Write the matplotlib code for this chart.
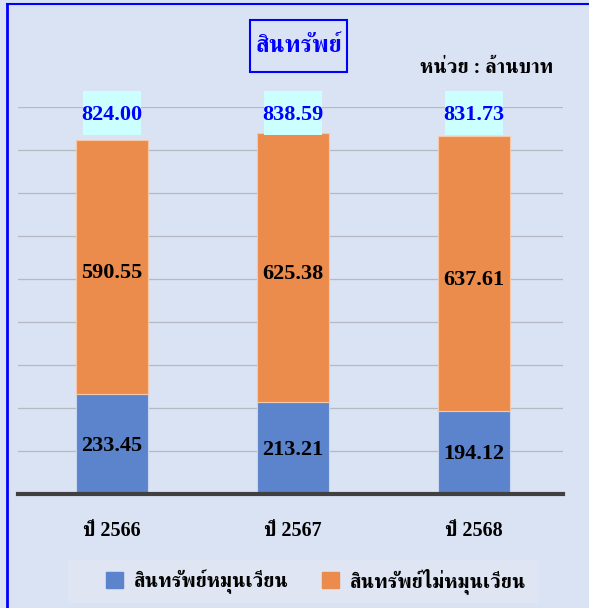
import matplotlib
matplotlib.use('Agg')
import matplotlib.pyplot as plt
from matplotlib import font_manager
from matplotlib.ft2font import FT2Font
from matplotlib.patches import Rectangle

years = ['ปี 2566', 'ปี 2567', 'ปี 2568']
current = [233.45, 213.21, 194.12]
noncurrent = [590.55, 625.38, 637.61]
totals = [824.00, 838.59, 831.73]
series_names = ['สินทรัพย์หมุนเวียน', 'สินทรัพย์ไม่หมุนเวียน']


# find an installed font that actually has Thai glyphs
def thai_font():
    best = None
    for f in font_manager.fontManager.ttflist:
        try:
            cmap = FT2Font(f.fname).get_charmap()
        except Exception:
            continue
        if 0x0E2A in cmap and 0x0E4C in cmap:
            if f.weight in ('bold', 700) or best is None:
                best = f.name
                if 'serif' in f.name.lower() and 'sans' not in f.name.lower():
                    return best
    return best

thai = thai_font()
fam = ['Liberation Serif'] + ([thai] if thai else []) + ['DejaVu Sans']
plt.rcParams['font.family'] = fam

bg = '#dae3f3'
blue = '#5b84cc'
orange = '#ec8c4c'

fig = plt.figure(figsize=(5.89, 6.08), dpi=100, facecolor=bg)
ax = fig.add_axes([18/589, 1 - 494/608, 545/589, 387/608])
ax.set_facecolor(bg)

x = range(len(years))
ax.bar(x, current, width=0.40, color=blue, edgecolor='#c9d6ef', linewidth=0.8, zorder=3)
ax.bar(x, noncurrent, width=0.40, bottom=current, color=orange, edgecolor='#f5c8a8', linewidth=0.8, zorder=3)

ax.set_xlim(-0.52, 2.49)
ax.set_ylim(0, 900)
ax.set_yticks(range(100, 901, 100))
ax.yaxis.grid(True, color='#b4b9c2', linewidth=0.9, zorder=0)
ax.tick_params(left=False, labelleft=False, bottom=False, labelbottom=False)
for s in ['top', 'right', 'left']:
    ax.spines[s].set_visible(False)
ax.spines['bottom'].set_color('#404040')
ax.spines['bottom'].set_linewidth(3)
ax.spines['bottom'].set_zorder(5)

for i in x:
    ax.text(i, current[i] / 2 - 5, f'{current[i]:.2f}', ha='center', va='center',
            fontsize=16, fontweight='bold', color='black', zorder=6)
    ax.text(i, current[i] + noncurrent[i] / 2 - 15, f'{noncurrent[i]:.2f}', ha='center', va='center',
            fontsize=16, fontweight='bold', color='black', zorder=6)
    ax.add_patch(Rectangle((i - 0.16, 835), 0.32, 102, facecolor='#ccffff',
                           edgecolor='none', zorder=5, clip_on=False))
    ax.text(i, 881, f'{totals[i]:.2f}', ha='center', va='center',
            fontsize=16, fontweight='bold', color='#0000ff', zorder=6, clip_on=False)
    ax.text(i, -85, years[i], ha='center', va='center', fontsize=14.5,
            fontweight='bold', color='black', clip_on=False)

# title box
fig.patches.append(Rectangle((250/589, 1 - 72/608), 97/589, 52/608, transform=fig.transFigure,
                             facecolor=bg, edgecolor='#0000ff', linewidth=1.5))
fig.text(298.5/589, 1 - 46/608, 'สินทรัพย์', ha='center', va='center', fontsize=17,
         fontweight='bold', color='#0000ff')
fig.text(553/589, 1 - 68/608, 'หน่วย : ล้านบาท', ha='right', va='center', fontsize=14.5,
         fontweight='bold', color='black')

# legend
fig.patches.append(Rectangle((68/589, 1 - 603/608), 470/589, 43/608, transform=fig.transFigure,
                             facecolor='#dfe5f2', edgecolor='none'))
leg = fig.legend(handles=[Rectangle((0, 0), 1, 1, color=blue), Rectangle((0, 0), 1, 1, color=orange)],
                 labels=series_names, loc='center', bbox_to_anchor=(316/589, 1 - 581/608),
                 ncol=2, frameon=False, prop=dict(size=14.5, weight='bold'),
                 handlelength=0.85, handleheight=0.85, columnspacing=1.7, handletextpad=0.5)

# outer blue frame (left and top)
fig.add_artist(plt.Line2D([7/589, 7/589], [0, 1 - 4/608], transform=fig.transFigure, color='#0000ff', linewidth=2))
fig.add_artist(plt.Line2D([7/589, 1], [1 - 4/608, 1 - 4/608], transform=fig.transFigure, color='#0000ff', linewidth=1.5))

fig.savefig('out.png', dpi=100, facecolor=bg)
